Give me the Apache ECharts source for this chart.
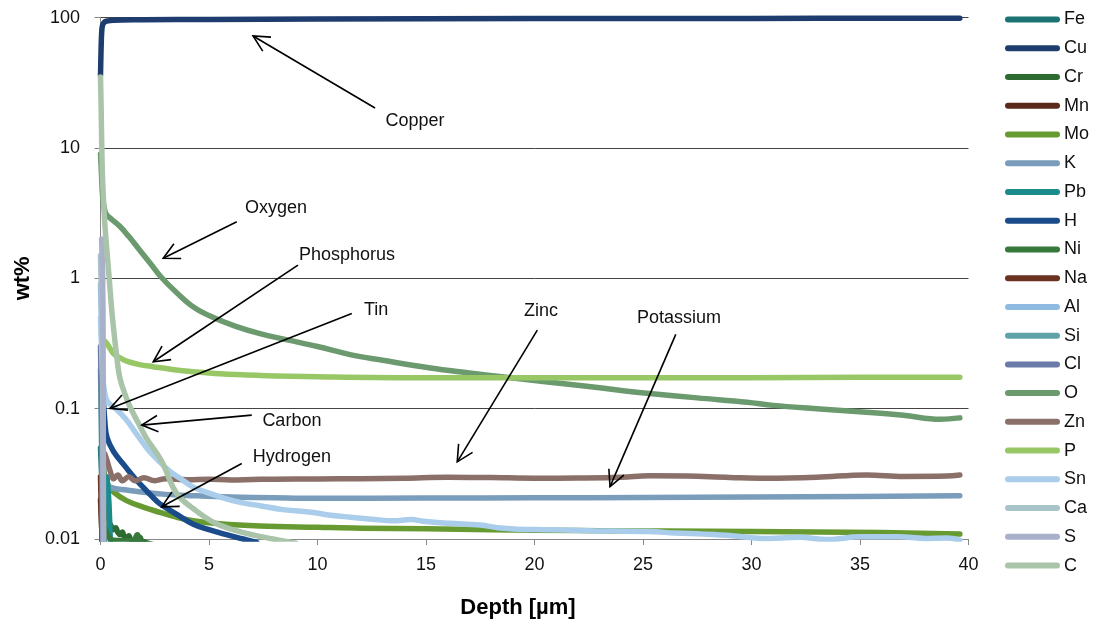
<!DOCTYPE html>
<html>
<head>
<meta charset="utf-8">
<script src="https://cdn.jsdelivr.net/npm/echarts@6/dist/echarts.min.js"></script>
<style>
  html, body { margin: 0; padding: 0; background: #fff; }
  #chart { width: 1095px; height: 626px; }
</style>
</head>
<body>
<div id="chart"></div>
<script>
// Depth profiles: [depth in µm, concentration in wt%]
const Fe = [[0, 0.05], [0.1, 0.02], [0.2, 0.008]];
const Cu = [[0, 36], [0.03, 60], [0.06, 80], [0.1, 88], [0.2, 93], [0.35, 94.5], [0.6, 95.5], [1, 96], [2, 96.4], [5, 97], [10, 97.8], [20, 98.4], [30, 98.8], [39.6, 99]];
const Cr = [[0.1, 0.05], [0.2, 0.025], [0.3, 0.016], [0.4, 0.0135], [0.5, 0.0125], [0.6, 0.0118], [0.7, 0.0122], [0.8, 0.0112], [0.9, 0.0108], [1.0, 0.0113], [1.1, 0.0104], [1.2, 0.0101], [1.3, 0.0106], [1.4, 0.0099], [1.6, 0.0096], [1.8, 0.0103], [1.9, 0.0097], [2.1, 0.0094], [2.5, 0.009]];
const Mn = [[0, 0.02], [0.1, 0.008]];
const Mo = [[0.1, 0.035], [0.3, 0.027], [0.6, 0.023], [1.2, 0.0197], [2, 0.0175], [2.74, 0.016], [3.5, 0.0147], [4.27, 0.0138], [5.5, 0.0131], [7.35, 0.0126], [10, 0.0123], [12, 0.0121], [15, 0.012], [18, 0.0118], [22, 0.0116], [26, 0.0115], [30, 0.0114], [33, 0.0113], [36, 0.0112], [39.6, 0.0109]];
const K = [[0.15, 0.03], [0.3, 0.026], [0.6, 0.0245], [1.2, 0.0238], [2, 0.0228], [3, 0.022], [4.27, 0.0215], [6, 0.021], [8, 0.0207], [10, 0.0205], [15, 0.0206], [20, 0.0207], [25, 0.0208], [30, 0.021], [35, 0.0212], [39.6, 0.0215]];
const Pb = [[0.3, 0.03], [0.38, 0.02], [0.42, 0.014], [0.45, 0.01], [0.48, 0.008]];
const H = [[0.05, 0.4], [0.1, 0.15], [0.2, 0.08], [0.3, 0.06], [0.6, 0.047], [1.2, 0.035], [1.6, 0.029], [1.97, 0.0249], [2.4, 0.021], [2.74, 0.0186], [3.5, 0.0155], [4.28, 0.013], [5, 0.0118], [5.8, 0.0108], [6.58, 0.01], [7.2, 0.0094]];
const Ni = [[0.1, 0.015], [0.3, 0.011], [0.6, 0.0098], [1.5, 0.0097], [1.7, 0.0108], [1.8, 0.0098], [2.2, 0.009]];
const Na = [[0, 0.03], [0.1, 0.006]];
const Al = [[0, 0.9], [0.05, 0.4], [0.1, 0.12], [0.13, 0.02], [0.15, 0.006]];
const Si = [[0, 0.2], [0.05, 0.05], [0.1, 0.008]];
const Cl = [[0, 0.3], [0.05, 0.08], [0.1, 0.01], [0.12, 0.005]];
const O = [[0, 9], [0.05, 6], [0.1, 4.2], [0.2, 3.3], [0.3, 3.05], [0.5, 2.85], [0.9, 2.5], [1.3, 2.1], [1.8, 1.65], [2.3, 1.3], [2.8, 1.02], [3.5, 0.78], [4.3, 0.6], [5.2, 0.5], [6.2, 0.43], [7.35, 0.376], [8.5, 0.34], [10, 0.3], [11.5, 0.26], [13, 0.235], [15.2, 0.205], [17, 0.188], [18.7, 0.174], [20.5, 0.161], [22.2, 0.15], [24, 0.138], [25.3, 0.131], [27.5, 0.121], [29.8, 0.112], [31, 0.106], [33, 0.1], [35.3, 0.094], [37, 0.089], [38.7, 0.083], [39.6, 0.085]];
const Zn = [[0.2, 0.045], [0.3, 0.04], [0.45, 0.033], [0.6, 0.029], [0.8, 0.031], [1.0, 0.028], [1.3, 0.03], [1.6, 0.028], [2, 0.0295], [2.5, 0.028], [3, 0.029], [4, 0.0285], [5, 0.0288], [6, 0.0284], [7, 0.0286], [8, 0.0288], [10, 0.0289], [12, 0.029], [14, 0.0293], [16, 0.0298], [18, 0.0296], [20, 0.0293], [22, 0.0294], [24, 0.0298], [25.3, 0.0306], [27, 0.0304], [29, 0.0297], [30.7, 0.0293], [33, 0.0298], [35.3, 0.031], [37, 0.0302], [39, 0.0304], [39.6, 0.031]];
const P = [[0.1, 0.34], [0.29, 0.317], [0.59, 0.266], [0.9, 0.245], [1.2, 0.232], [1.8, 0.218], [2.43, 0.21], [3.3, 0.2], [4.28, 0.192], [5.5, 0.185], [7.35, 0.18], [10, 0.176], [15, 0.173], [20, 0.173], [25, 0.173], [30, 0.173], [35, 0.174], [39.6, 0.174]];
const Sn = [[0, 0.5], [0.05, 0.3], [0.1, 0.18], [0.2, 0.13], [0.3, 0.115], [0.44, 0.108], [0.7, 0.1], [1.2, 0.082], [1.6, 0.066], [2.13, 0.05], [2.6, 0.041], [3.2, 0.033], [3.7, 0.029], [4.27, 0.025], [5, 0.0225], [5.8, 0.0203], [6.5, 0.019], [7.35, 0.018], [8.4, 0.0168], [9.8, 0.016], [10.5, 0.0153], [11.5, 0.0147], [12.5, 0.0142], [13.5, 0.0138], [14.3, 0.0141], [15, 0.0136], [16.1, 0.0132], [17.5, 0.0128], [18.3, 0.0122], [19.2, 0.0119], [20.5, 0.0118], [22.2, 0.0116], [23.5, 0.0115], [25.3, 0.0114], [26.5, 0.0111], [27.8, 0.0109], [29.1, 0.0106], [30.5, 0.0101], [32.2, 0.0103], [33.5, 0.0099], [35, 0.0104], [36.8, 0.0104], [38, 0.0101], [39, 0.0102], [39.6, 0.0098]];
const Ca = [[0, 1.5], [0.05, 0.6], [0.1, 0.15], [0.12, 0.03], [0.14, 0.006]];
const S = [[0.05, 2], [0.1, 1], [0.12, 0.3], [0.13, 0.05], [0.14, 0.01], [0.15, 0.005]];
const C = [[0, 35], [0.03, 20], [0.06, 10], [0.1, 5.5], [0.2, 2.6], [0.3, 1.6], [0.4, 1.0], [0.55, 0.5], [0.75, 0.25], [0.9, 0.17], [1.2, 0.12], [1.4, 0.1], [1.7, 0.08], [2.1, 0.06], [2.8, 0.04], [3.5, 0.0225], [4.3, 0.017], [5.3, 0.0132], [6.5, 0.0113], [7.95, 0.01], [9, 0.0093]];

const elementNames = ['Fe', 'Cu', 'Cr', 'Mn', 'Mo', 'K', 'Pb', 'H', 'Ni', 'Na', 'Al', 'Si', 'Cl', 'O', 'Zn', 'P', 'Sn', 'Ca', 'S', 'C'];
const elementData = [Fe, Cu, Cr, Mn, Mo, K, Pb, H, Ni, Na, Al, Si, Cl, O, Zn, P, Sn, Ca, S, C];

const xTicks = [0, 5, 10, 15, 20, 25, 30, 35, 40];
const yTicks = [0.01, 0.1, 1, 10, 100];

// Callouts: label position, arrow tail and arrow tip, all in data units
const callouts = [
  { text: 'Copper',     label: [14.49, 16.09], tail: [12.65, 20.3],  tip: [7.03, 72.4] },
  { text: 'Oxygen',     label: [8.09, 3.46],   tail: [6.28, 2.72],   tip: [2.89, 1.425] },
  { text: 'Phosphorus', label: [11.36, 1.51],  tail: [9.10, 1.265],  tip: [2.43, 0.229] },
  { text: 'Tin',        label: [12.70, 0.571], tail: [11.58, 0.538], tip: [0.44, 0.1005] },
  { text: 'Zinc',       label: [20.30, 0.561], tail: [20.13, 0.401], tip: [16.44, 0.0391] },
  { text: 'Potassium',  label: [26.66, 0.496], tail: [26.51, 0.372], tip: [23.48, 0.0252] },
  { text: 'Carbon',     label: [8.82, 0.0803], tail: [6.97, 0.0893], tip: [1.90, 0.0748] },
  { text: 'Hydrogen',   label: [8.82, 0.0425], tail: [6.51, 0.038],  tip: [2.82, 0.01766] }
];

const colors = {
  Fe: '#1b7373', Cu: '#1f3c6e', Cr: '#2e6b31', Mn: '#5b2a1a', Mo: '#689a32',
  K: '#7a9dbb', Pb: '#1a8c8c', H: '#1a4b8a', Ni: '#367a3b', Na: '#6b3222',
  Al: '#8fbbe2', Si: '#5fa2a8', Cl: '#6a7ba8', O: '#6b9a6f', Zn: '#8b6f69',
  P: '#98c866', Sn: '#a9cdea', Ca: '#a9c4c8', S: '#a9b0c9', C: '#a9c4a9'
};

const font = '"Liberation Sans", Arial, sans-serif';
const chart = echarts.init(document.getElementById('chart'), null, { renderer: 'canvas' });

const legendIcon = 'path://M3,0 L52,0 A3,3 0 0 1 52,6 L3,6 A3,3 0 0 1 3,0 Z';

const option = {
  animation: false,
  backgroundColor: '#fff',
  textStyle: { fontFamily: font },
  grid: { left: 100.5, right: 126.5, top: 17.7, bottom: 87, containLabel: false },
  legend: {
    orient: 'vertical',
    left: 1005,
    top: 10.5,
    padding: 0,
    itemWidth: 55,
    itemHeight: 6,
    itemGap: 10.74,
    icon: legendIcon,
    data: elementNames,
    textStyle: { fontFamily: font, fontSize: 18, color: '#111', lineHeight: 18, padding: [0, 0, 0, -1] }
  },
  xAxis: {
    type: 'value',
    min: xTicks[0],
    max: xTicks[xTicks.length - 1],
    interval: xTicks[1] - xTicks[0],
    name: 'Depth [µm]',
    nameLocation: 'middle',
    nameGap: 58,
    nameTextStyle: { fontFamily: font, fontSize: 22, fontWeight: 'bold', color: '#000', padding: [0, 33, 0, 0] },
    axisLine: { show: true, lineStyle: { color: '#888', width: 1 } },
    axisTick: { show: true, inside: false, length: 6, lineStyle: { color: '#888' } },
    axisLabel: { fontFamily: font, fontSize: 18, color: '#111', margin: 17 },
    splitLine: { show: false }
  },
  yAxis: {
    type: 'log',
    logBase: 10,
    min: yTicks[0],
    max: yTicks[yTicks.length - 1],
    name: 'wt%',
    nameLocation: 'middle',
    nameGap: 67,
    nameRotate: 90,
    nameTextStyle: { fontFamily: font, fontSize: 22, fontWeight: 'bold', color: '#000' },
    axisLine: { show: true, lineStyle: { color: '#888', width: 1 } },
    axisTick: { show: true, length: 6, lineStyle: { color: '#888' } },
    axisLabel: {
      fontFamily: font, fontSize: 18, color: '#111', margin: 20.5,
      formatter: v => String(Number(v.toPrecision(3)))
    },
    splitLine: { show: true, lineStyle: { color: '#444', width: 1 } }
  },
  series: elementNames.map((name, i) => ({
    name,
    type: 'line',
    data: elementData[i],
    color: colors[name],
    showSymbol: false,
    symbol: 'none',
    smooth: 0.4,
    clip: true,
    lineStyle: { width: 5.5, cap: 'round', join: 'round', color: colors[name] },
    emphasis: { disabled: true }
  }))
};

chart.setOption(option);

// Callout arrows and labels, placed through the grid's own coordinate system
function buildCallouts() {
  const els = [];
  const armLen = 18;
  const armAngle = 27 * Math.PI / 180;
  callouts.forEach(c => {
    const tail = chart.convertToPixel({ gridIndex: 0 }, c.tail);
    const tip = chart.convertToPixel({ gridIndex: 0 }, c.tip);
    const lab = chart.convertToPixel({ gridIndex: 0 }, c.label);
    const ang = Math.atan2(tail[1] - tip[1], tail[0] - tip[0]);
    const a1 = [tip[0] + armLen * Math.cos(ang + armAngle), tip[1] + armLen * Math.sin(ang + armAngle)];
    const a2 = [tip[0] + armLen * Math.cos(ang - armAngle), tip[1] + armLen * Math.sin(ang - armAngle)];
    els.push({
      type: 'line', z: 100, silent: true,
      shape: { x1: tail[0], y1: tail[1], x2: tip[0], y2: tip[1] },
      style: { stroke: '#000', lineWidth: 1.6 }
    });
    els.push({
      type: 'polyline', z: 100, silent: true,
      shape: { points: [a1, tip, a2] },
      style: { stroke: '#000', lineWidth: 1.6, fill: null, lineJoin: 'miter' }
    });
    els.push({
      type: 'text', z: 101, silent: true,
      x: lab[0], y: lab[1],
      style: { text: c.text, fontFamily: font, fontSize: 18, fill: '#111', align: 'center', verticalAlign: 'middle' }
    });
  });
  return els;
}

chart.setOption({ graphic: buildCallouts() });
</script>
</body>
</html>
